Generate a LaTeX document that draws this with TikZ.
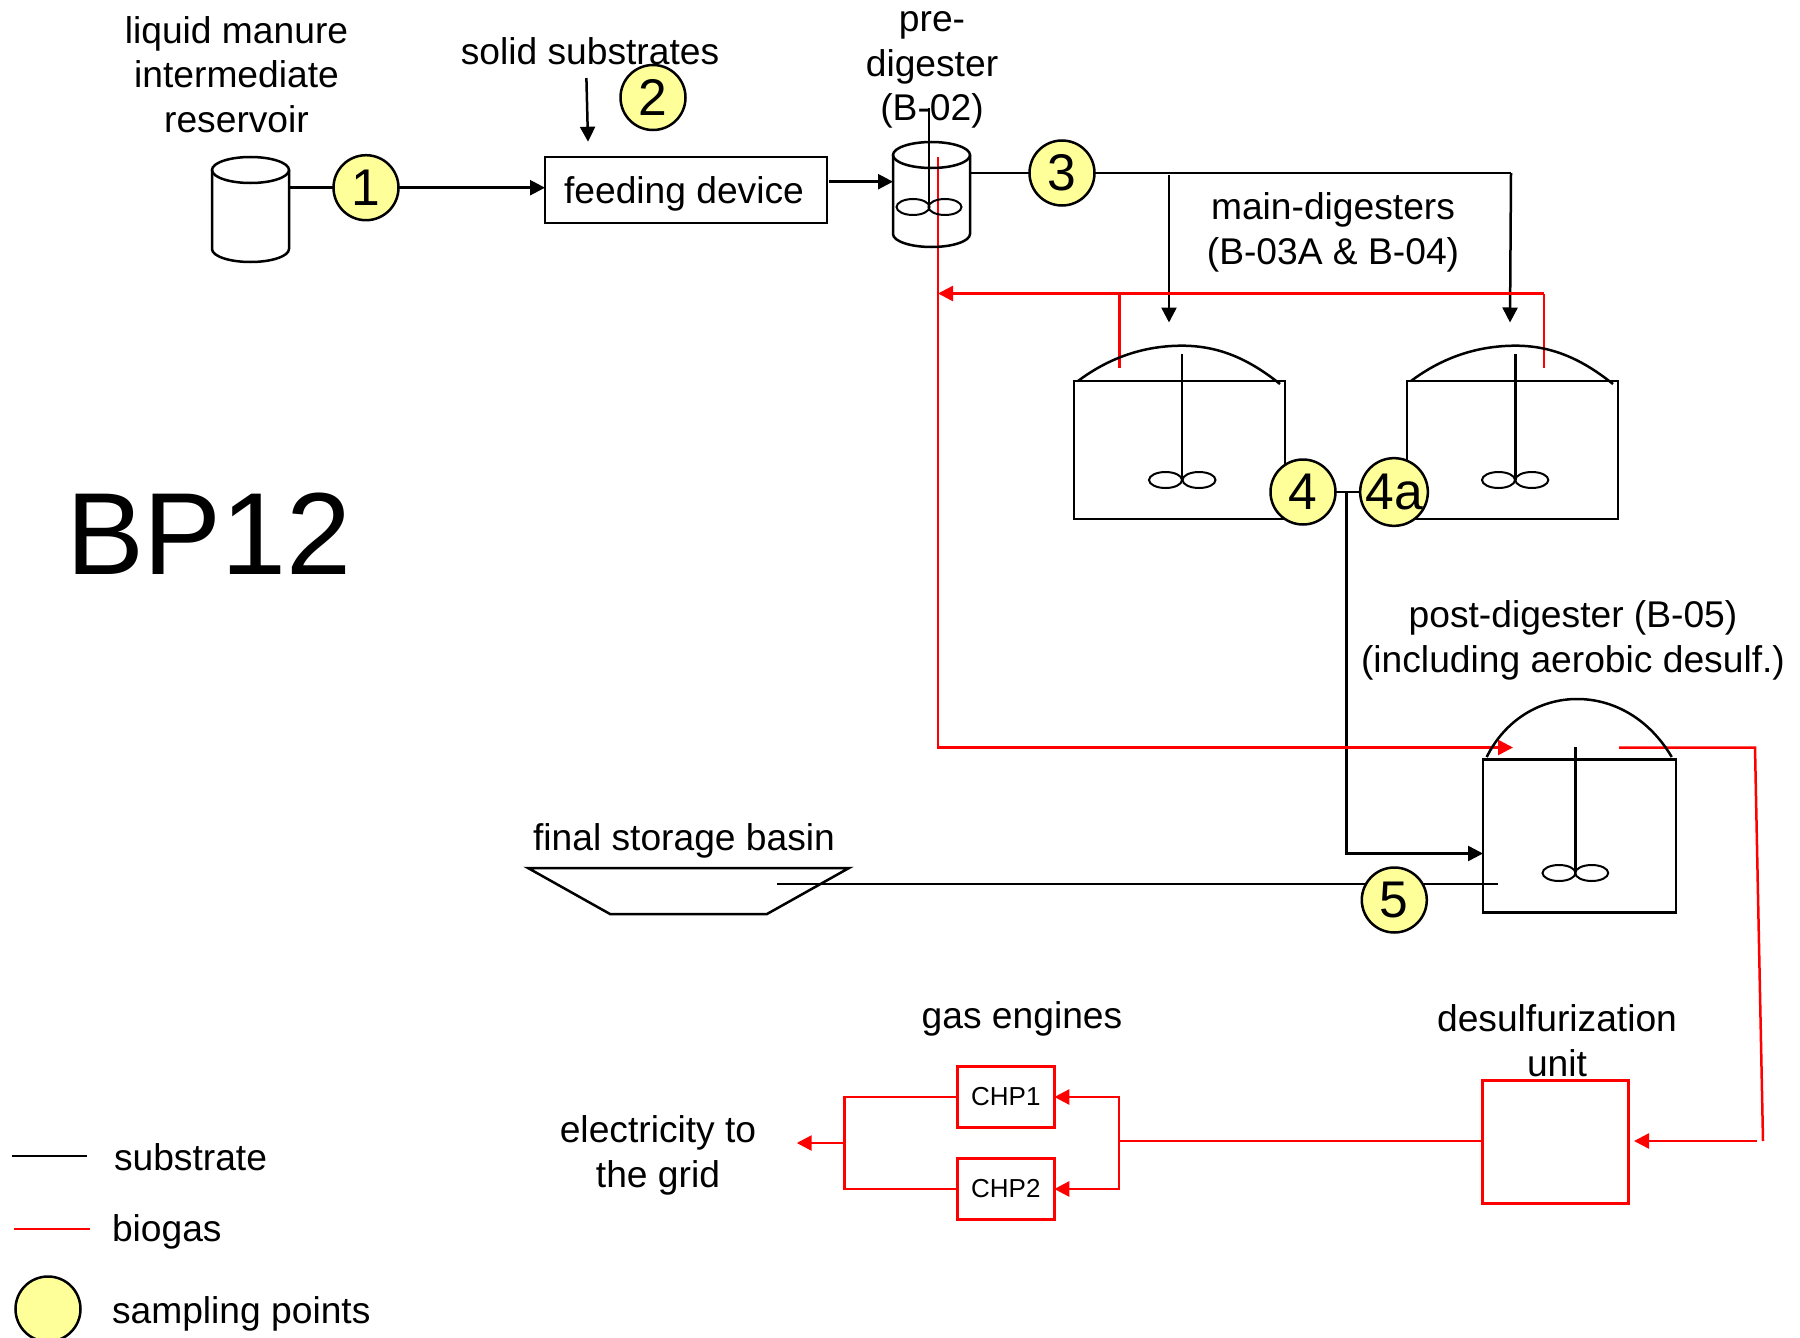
\documentclass[tikz,border=0pt]{standalone}
\usepackage{fontspec}
\setmainfont{Liberation Sans}
\usetikzlibrary{arrows.meta,backgrounds}
\definecolor{sampleyellow}{HTML}{FFFF99}
\tikzset{
  blk/.style={draw=black,line width=1.25pt},
  red line/.style={draw=red,line width=1.25pt},
  tip/.style={-{Triangle[length=7.5pt,width=7.5pt]}},
  label/.style={inner sep=0,outer sep=0,align=center,font=\fontsize{18.6}{22.4}\selectfont},
  legendtext/.style={label,anchor=west},
  sampling/.style={circle,draw=black,line width=1.25pt,fill=sampleyellow,minimum size=32.5pt,inner sep=0,outer sep=0,font=\fontsize{25.8}{28}\selectfont},
  tankbox/.style={rectangle,draw=black,line width=1.25pt,inner sep=0,outer sep=0},
  redbox/.style={rectangle,draw=red,line width=1.25pt,inner sep=0,outer sep=0},
  chpbox/.style={redbox,minimum width=48.5pt,minimum height=30.5pt,font=\fontsize{13}{15}\selectfont},
  ghost/.style={rectangle,inner sep=0,outer sep=0},
}
\newcommand{\stirrer}[6]{% shaft x, top y, bottom y, blade y, left blade x, right blade x
  \draw[blk] (#1,#2) -- (#1,#3);
  \draw[blk,line width=1pt] (#5,#4) ellipse [x radius=16.5,y radius=8];
  \draw[blk,line width=1pt] (#6,#4) ellipse [x radius=16.5,y radius=8];
}
\begin{document}
\begin{tikzpicture}[x=0.5pt,y=-0.5pt]
\useasboundingbox (0,0) rectangle (1800,1338);

% vessels
\node[ghost,minimum width=38.5pt,minimum height=52.5pt] (reservoir) at (250.5,209.5) {};
\draw[blk] (212,170) -- (212,249) arc[start angle=180,end angle=0,x radius=38.5,y radius=13] -- (289,170);
\draw[blk] (250.5,170) ellipse [x radius=38.5,y radius=13];

\node[tankbox,minimum width=141pt,minimum height=33pt] (feed) at (686,190) {};
\node[label] (lfeed) at (684,194) {feeding device};

\node[ghost,minimum width=39pt,minimum height=52.5pt] (pre) at (931,194.5) {};
\draw[blk] (893,155) -- (893,234) arc[start angle=180,end angle=0,x radius=38.5,y radius=13] -- (970,155);
\draw[blk] (931.5,155) ellipse [x radius=38.5,y radius=13];
\stirrer{929}{108}{203}{207}{913}{945}

\node[tankbox,minimum width=105.5pt,minimum height=69pt] (mainA) at (1179.5,450) {};
\draw[blk] (1078,381) .. controls (1110,357) and (1145,345.7) .. (1182,345.7) .. controls (1220,345.7) and (1250,360) .. (1280,384);
\stirrer{1182}{354}{480}{480}{1165.5}{1199}

\node[tankbox,minimum width=105.5pt,minimum height=69pt] (mainB) at (1512.5,450) {};
\draw[blk] (1411,381) .. controls (1443,357) and (1478,345.7) .. (1515.7,345.7) .. controls (1553,345.7) and (1583,360) .. (1613,384);
\stirrer{1515.7}{354}{480}{480}{1498.5}{1531.8}

\node[tankbox,minimum width=96.5pt,minimum height=76.5pt] (post) at (1579.5,836) {};
\draw[blk] (1486.7,757) .. controls (1505,720) and (1540,699) .. (1577,699) .. controls (1615,699) and (1650,720) .. (1671.7,757);
\stirrer{1575.7}{747}{872}{873}{1559}{1591.7}

% final storage basin
\node[ghost,minimum width=161.5pt,minimum height=23pt] (basin) at (689.5,891) {};
\draw[blk] (528,868) -- (849,868) -- (767,914) -- (610,914) -- cycle;

% red units
\node[redbox,minimum width=73pt,minimum height=61.5pt] (desulf) at (1555.5,1142) {};
\node[chpbox] (chpa) at (1005.8,1097) {CHP1};
\node[chpbox] (chpb) at (1005.8,1189) {CHP2};

% sampling points
\node[sampling] (s1) at (366,187.7) {1};
\node[sampling] (s2) at (653,97.5) {2};
\node[sampling] (s3) at (1062,173) {3};
\node[sampling] (s4) at (1303,492) {4};
\node[sampling] (s4a) at (1394,492) {4a};
\node[sampling] (s5) at (1394.3,900) {5};
\node[sampling] (skey) at (48,1309) {};

% labels
\node[label] (lreservoir) at (236.5,74.6) {liquid manure\\intermediate\\reservoir};
\node[label] (lsolid) at (590,51.6) {solid substrates};
\node[label] (lpre) at (932,70) {pre-\\digester\\(B-02)};
\node[label] (lmain) at (1333,232.5) {main-digesters\\(B-03A \& B-04)};
\node[label] (lpost) at (1573,640.5) {post-digester (B-05)\\(including aerobic desulf.)};
\node[label] (lbasin) at (684,840.5) {final storage basin};
\node[label] (lgas) at (1022,1018.5) {gas engines};
\node[label] (ldesulf) at (1557,1041) {desulfurization\\unit};
\node[label] (lgrid) at (658,1155) {electricity to\\the grid};
\node[inner sep=0,outer sep=0,anchor=west,font=\fontsize{58.4}{60}\selectfont] (title) at (66,534) {BP12};
\node[legendtext] (lsub) at (114,1157) {substrate};
\node[legendtext] (lbio) at (112,1231.5) {biogas};
\node[legendtext] (lsam) at (112,1313.5) {sampling points};

% free ends and junctions
\coordinate (solidstart) at (586.4,78);
\coordinate (solidend) at (588,141.7);
\coordinate (feedout) at (829,181.7);
\coordinate (preIn) at (893,181.7);
\coordinate (topR) at (1511,173);
\coordinate (branchL) at (1169,175);
\coordinate (inA) at (1169,322.5);
\coordinate (inB) at (1510,322.5);
\coordinate (j4) at (1346.7,492);
\coordinate (j4b) at (1346.7,853.5);
\coordinate (postIn) at (1483,853.5);
\coordinate (basinOut) at (777,884);
\coordinate (postOut) at (1497.7,884);
\coordinate (redTop) at (938,157);
\coordinate (redCorner) at (938,747.5);
\coordinate (redTip) at (1513,747.5);
\coordinate (redRetR) at (1544,293.5);
\coordinate (redRetL) at (938,293.5);
\coordinate (redA) at (1119.6,293.5);
\coordinate (redAd) at (1119.6,368);
\coordinate (redBd) at (1544,368);
\coordinate (gasOutA) at (1619,747.5);
\coordinate (gasOutB) at (1755,747.5);
\coordinate (gasOutC) at (1763,1141);
\coordinate (desIn) at (1757,1141);
\coordinate (desTip) at (1634,1141);
\coordinate (busR) at (1119,1141);
\coordinate (busL) at (844.5,1143);
\coordinate (gridTip) at (796.7,1143);
\coordinate (k1a) at (11.5,1156);
\coordinate (k1b) at (87,1156);
\coordinate (k2a) at (14,1229);
\coordinate (k2b) at (90,1229);

\begin{scope}[on background layer]
  % substrate
  \draw[blk] (reservoir.east |- s1) -- (s1);
  \draw[blk,tip] (s1) -- (feed.west |- s1);
  \draw[blk,tip] (solidstart) -- (solidend);
  \draw[blk,tip] (feedout) -- (preIn);
  \draw[blk] (pre.east |- s3) -- (s3);
  \draw[blk] (s3) -- (topR);
  \draw[blk,tip] (topR) -- (inB);
  \draw[blk,tip] (branchL) -- (inA);
  \draw[blk] (s4) -- (s4a);
  \draw[blk,tip] (j4) -- (j4b) -- (postIn);
  \draw[blk] (basinOut) -- (postOut);
  % biogas
  \draw[red line,tip] (redTop) -- (redCorner) -- (redTip);
  \draw[red line,tip] (redRetR) -- (redRetL);
  \draw[red line] (redAd) -- (redA);
  \draw[red line] (redBd) -- (redRetR);
  \draw[red line] (gasOutA) -- (gasOutB) -- (gasOutC);
  \draw[red line,tip] (desIn) -- (desTip);
  \draw[red line] (desulf.west |- busR) -- (busR);
  \draw[red line,tip] (busR) |- (chpa.east);
  \draw[red line,tip] (busR) |- (chpb.east);
  \draw[red line] (chpa.west) -| (busL);
  \draw[red line] (chpb.west) -| (busL);
  \draw[red line,tip] (busL) -- (gridTip);
  % legend
  \draw[blk] (k1a) -- (k1b);
  \draw[red line] (k2a) -- (k2b);
\end{scope}
\end{tikzpicture}
\end{document}
